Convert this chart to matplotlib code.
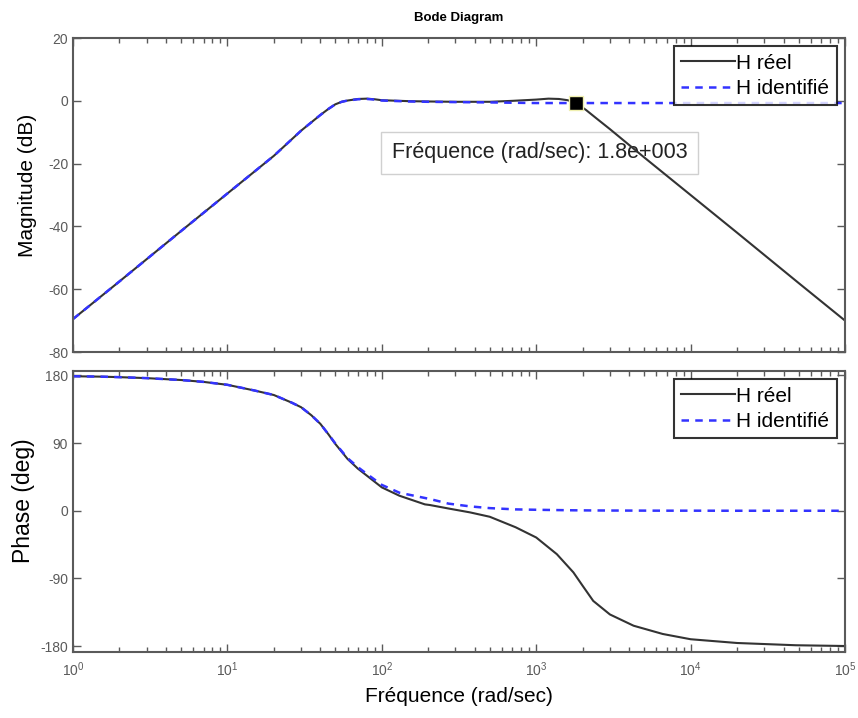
import numpy as np
import matplotlib
matplotlib.use('Agg')
import matplotlib.pyplot as plt
from matplotlib.ticker import LogLocator, NullFormatter, FixedLocator

# magnitude (dB), frequencies in rad/sec
w_mag = [1, 2, 5, 10, 20, 30, 40, 45, 50, 55, 60, 70, 80, 90, 100, 150, 200, 300,
         500, 700, 1000, 1200, 1400, 1600, 1800, 2100, 2500, 3000, 5000, 1e4,
         2e4, 5e4, 1e5]
mag_reel = [-69.5, -57.5, -41.5, -29.5, -17.5, -9.5, -4.5, -2.6, -1.1, -0.3, 0.1,
            0.6, 0.7, 0.5, 0.2, -0.1, -0.2, -0.3, -0.3, 0.0, 0.4, 0.7, 0.6, 0.2,
            -0.6, -2.9, -5.9, -9, -18, -30, -42, -58, -70]
mag_ident = [-69.5, -57.5, -41.5, -29.5, -17.5, -9.5, -4.5, -2.6, -1.1, -0.3, 0.1,
             0.5, 0.6, 0.4, 0.1, -0.2, -0.3, -0.4, -0.5, -0.6, -0.7, -0.7, -0.7,
             -0.7, -0.7, -0.7, -0.7, -0.7, -0.7, -0.7, -0.7, -0.7, -0.7]

# phase (deg)
w_ph = [1, 1.5, 2, 3, 5, 7, 10, 15, 20, 26, 30, 35, 40, 45, 50, 60, 70, 80, 100,
        130, 190, 205, 270, 373, 500, 736, 1000, 1360, 1740, 2000, 2340, 3000,
        4270, 6600, 1e4, 2e4, 4.8e4, 1e5]
ph_reel = [179, 178.5, 177.8, 176.5, 174, 171.5, 167.6, 160, 154, 144, 137.8, 127,
           115.6, 102, 88.9, 68.9, 56, 46.7, 31.1, 20, 8.5, 7.6, 3, -2.2, -8, -22,
           -35.6, -57.8, -82, -100, -120, -138, -153, -164, -171, -176, -179, -180]
ph_ident = [179, 178.5, 177.8, 176.5, 174, 171.5, 167.6, 160, 154, 144, 137.8, 127,
            115.6, 102, 89.5, 70, 58, 49, 34.4, 24, 17, 15.6, 9.5, 5.8, 3.5, 1.8,
            1.3, 0.9, 0.6, 0.5, 0.4, 0.3, 0.2, 0.1, 0.1, 0, 0, 0]

tip_w = 1800
tip_mag = -0.6
tip_text = 'Fréquence (rad/sec): 1.8e+003'
labels = ['H réel', 'H identifié']

plt.rcParams['font.family'] = ['Liberation Sans', 'DejaVu Sans']
plt.rcParams['axes.unicode_minus'] = False
grey = '#5a5a5a'

fig = plt.figure(figsize=(8.58, 7.18), dpi=100)
ax1 = fig.add_axes([0.0851, 0.5097, 0.8998, 0.4373])
ax2 = fig.add_axes([0.0851, 0.0919, 0.8998, 0.3914])


def style(ax):
    ax.set_xscale('log')
    ax.set_xlim(1, 1e5)
    ax.xaxis.set_major_locator(LogLocator(base=10, numticks=10))
    ax.xaxis.set_minor_locator(LogLocator(base=10, subs=np.arange(2, 10), numticks=20))
    ax.tick_params(which='both', direction='in', top=True, right=True,
                   colors=grey, labelsize=10, width=1)
    ax.tick_params(which='major', length=6)
    ax.tick_params(which='minor', length=3.5)
    ax.tick_params(axis='x', pad=6)
    for s in ax.spines.values():
        s.set_color(grey)
        s.set_linewidth(1.5)


leg_kw = dict(loc='upper right', fontsize=15, frameon=True, fancybox=False,
              handlelength=2.6, handletextpad=0.05, borderpad=0.35,
              labelspacing=0.3, borderaxespad=0.4)

style(ax1)
ax1.plot(w_mag, mag_reel, color='#333333', lw=1.5, label=labels[0])
ax1.plot(w_mag, mag_ident, color='#3333ff', lw=1.8, ls=(0, (3, 2.5)), label=labels[1])
ax1.set_ylim(-80, 20)
ax1.yaxis.set_major_locator(FixedLocator([-80, -60, -40, -20, 0, 20]))
ax1.xaxis.set_major_formatter(NullFormatter())
ax1.set_ylabel('Magnitude (dB)', fontsize=15, labelpad=8)
ax1.yaxis.label.set_y(0.53)
ax1.set_title('Bode Diagram', fontsize=9.5, fontweight='bold', pad=12)

# data tip
ax1.plot([tip_w], [tip_mag], marker='s', ms=10, mfc='black', mec='#f0f0b0', mew=1, zorder=5)
ax1.text(0.413, 0.634, tip_text, transform=ax1.transAxes, fontsize=15.5,
         color='#222222', va='center', ha='left',
         bbox=dict(boxstyle='square,pad=0.5', fc='none', ec='#d0d0d0', lw=1),
         zorder=1)

leg1 = ax1.legend(**leg_kw)
leg1.get_frame().set_edgecolor('black')
leg1.get_frame().set_linewidth(1.5)

style(ax2)
ax2.plot(w_ph, ph_reel, color='#333333', lw=1.5, label=labels[0])
ax2.plot(w_ph, ph_ident, color='#3333ff', lw=1.8, ls=(0, (3, 2.5)), label=labels[1])
ax2.set_ylim(-188, 186)
ax2.yaxis.set_major_locator(FixedLocator([-180, -90, 0, 90, 180]))
ax2.set_ylabel('Phase (deg)', fontsize=16.5, labelpad=4)
ax2.yaxis.label.set_y(0.537)
ax2.set_xlabel('Fréquence (rad/sec)', fontsize=15, labelpad=6)
leg2 = ax2.legend(**leg_kw)
leg2.get_frame().set_edgecolor('black')
leg2.get_frame().set_linewidth(1.5)

plt.savefig('out.png', dpi=100)
